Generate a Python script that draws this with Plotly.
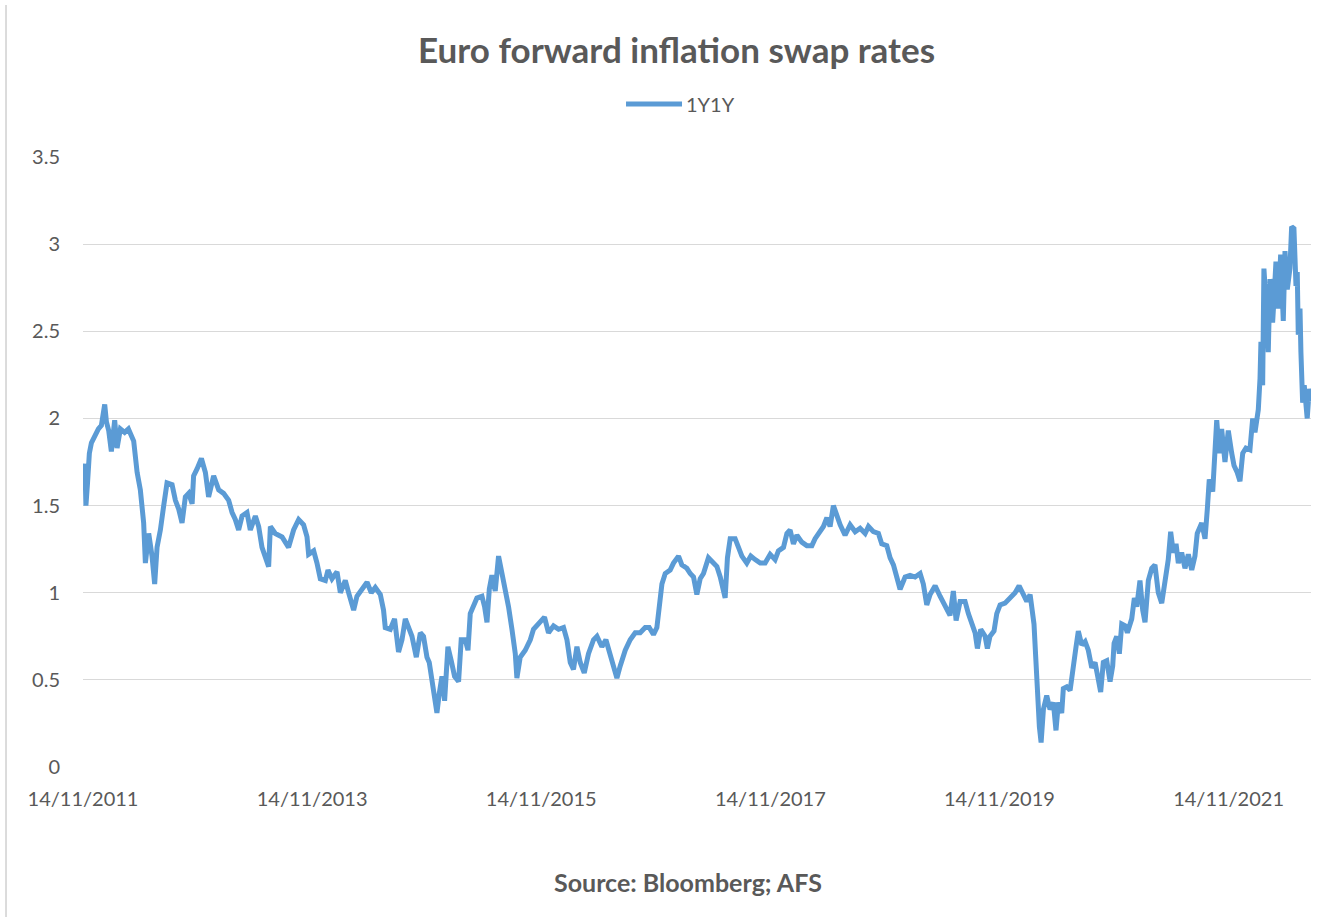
import plotly.graph_objects as go

# 1Y1Y euro forward inflation swap rate (%), dates as decimal years
years = [
    2011.869, 2011.876, 2011.885, 2011.894, 2011.907, 2011.924, 2011.942, 2011.968,
    2012.003, 2012.029, 2012.058, 2012.073, 2012.093, 2012.116, 2012.145, 2012.166,
    2012.195, 2012.232, 2012.265, 2012.311, 2012.341, 2012.369, 2012.398, 2012.413,
    2012.442, 2012.471, 2012.494, 2012.515, 2012.544, 2012.573, 2012.602, 2012.646,
    2012.675, 2012.704, 2012.733, 2012.762, 2012.791, 2012.821, 2012.834, 2012.864,
    2012.902, 2012.937, 2012.965, 2013.009, 2013.053, 2013.096, 2013.140, 2013.170,
    2013.198, 2013.227, 2013.257, 2013.300, 2013.329, 2013.373, 2013.402, 2013.431,
    2013.460, 2013.489, 2013.504, 2013.547, 2013.606, 2013.663, 2013.707,
    2013.751, 2013.794, 2013.824, 2013.838, 2013.882, 2013.911, 2013.940, 2013.984,
    2014.007, 2014.042, 2014.086, 2014.115, 2014.158, 2014.187, 2014.231, 2014.260,
    2014.304, 2014.348, 2014.385, 2014.420, 2014.464, 2014.492, 2014.507, 2014.551,
    2014.588, 2014.623, 2014.653, 2014.682, 2014.717, 2014.740, 2014.778, 2014.813,
    2014.841, 2014.871, 2014.891, 2014.915, 2014.937, 2014.958, 2014.978, 2015.002,
    2015.025, 2015.054, 2015.083, 2015.112, 2015.147, 2015.170, 2015.205, 2015.229,
    2015.249, 2015.278, 2015.307, 2015.351, 2015.374, 2015.395, 2015.415, 2015.438,
    2015.467, 2015.496, 2015.526, 2015.554, 2015.583, 2015.613, 2015.642, 2015.656,
    2015.685, 2015.729, 2015.773, 2015.801, 2015.845, 2015.897, 2015.932, 2015.976,
    2016.020, 2016.063, 2016.093, 2016.122, 2016.150, 2016.180, 2016.209, 2016.244,
    2016.281, 2016.325, 2016.355, 2016.398, 2016.433, 2016.471, 2016.499, 2016.529,
    2016.558, 2016.602, 2016.645, 2016.689, 2016.732, 2016.776, 2016.811, 2016.848,
    2016.878, 2016.898, 2016.922, 2016.951, 2016.994, 2017.023, 2017.067, 2017.096,
    2017.140, 2017.169, 2017.198, 2017.227, 2017.256,
    2017.285, 2017.328, 2017.372, 2017.402, 2017.431, 2017.459, 2017.474, 2017.494,
    2017.518, 2017.561, 2017.590, 2017.620, 2017.663, 2017.698, 2017.736, 2017.780,
    2017.823, 2017.867, 2017.910, 2017.939, 2017.983, 2018.013, 2018.041, 2018.070,
    2018.100, 2018.143, 2018.187, 2018.231, 2018.259, 2018.303, 2018.332, 2018.362,
    2018.390, 2018.419, 2018.449, 2018.478, 2018.521, 2018.565, 2018.609, 2018.652,
    2018.696, 2018.725, 2018.768, 2018.812, 2018.841, 2018.885, 2018.914, 2018.943,
    2018.972, 2019.001,
    2019.045, 2019.088, 2019.132, 2019.176, 2019.204, 2019.234, 2019.263, 2019.307,
    2019.350, 2019.394, 2019.437, 2019.466, 2019.490, 2019.525, 2019.568, 2019.597,
    2019.627, 2019.656, 2019.676, 2019.705, 2019.743, 2019.763, 2019.786, 2019.821,
    2019.845, 2019.874, 2019.917, 2019.961, 2020.005, 2020.040, 2020.072, 2020.107,
    2020.136, 2020.159, 2020.170, 2020.185, 2020.199, 2020.217, 2020.232, 2020.252,
    2020.281, 2020.310, 2020.339, 2020.362, 2020.383, 2020.412, 2020.426, 2020.456,
    2020.485, 2020.508, 2020.537, 2020.557, 2020.587, 2020.616, 2020.644, 2020.674,
    2020.703, 2020.732,
    2020.752, 2020.775, 2020.805, 2020.834, 2020.857, 2020.869, 2020.892, 2020.915,
    2020.936, 2020.965, 2020.985, 2021.023, 2021.046, 2021.067, 2021.095, 2021.119,
    2021.139, 2021.168, 2021.198, 2021.226, 2021.255, 2021.285, 2021.314, 2021.342,
    2021.363, 2021.386, 2021.410, 2021.430, 2021.459, 2021.488, 2021.517, 2021.547,
    2021.575, 2021.595, 2021.634, 2021.663, 2021.683, 2021.700, 2021.730, 2021.750,
    2021.765, 2021.787, 2021.808, 2021.837, 2021.866, 2021.896, 2021.916, 2021.944,
    2021.968, 2021.992, 2022.020, 2022.055, 2022.079, 2022.099, 2022.128, 2022.143,
    2022.151, 2022.166, 2022.177, 2022.195, 2022.215, 2022.230, 2022.253, 2022.267,
    2022.282, 2022.302, 2022.323, 2022.346, 2022.361, 2022.381, 2022.404, 2022.419,
    2022.439, 2022.457, 2022.468, 2022.477, 2022.492, 2022.500, 2022.515, 2022.529,
    2022.544, 2022.555, 2022.573, 2022.588,
]

rate_1y1y = [
    1.72, 1.62, 1.74, 1.50, 1.62, 1.80, 1.86, 1.90,
    1.94, 1.96, 2.08, 1.98, 1.93, 1.81, 1.99, 1.83,
    1.94, 1.92, 1.94, 1.87, 1.69, 1.59, 1.40, 1.17,
    1.34, 1.21, 1.05, 1.26, 1.36, 1.50, 1.63, 1.62,
    1.53, 1.48, 1.40, 1.55, 1.57, 1.51, 1.67, 1.71,
    1.77, 1.69, 1.55, 1.67, 1.59, 1.57, 1.53, 1.46,
    1.42, 1.36, 1.44, 1.46, 1.36, 1.44, 1.38, 1.26,
    1.21, 1.15, 1.38, 1.34, 1.32, 1.26, 1.36,
    1.42, 1.39, 1.32, 1.22, 1.24, 1.17, 1.08, 1.07,
    1.13, 1.08, 1.12, 1.00, 1.07, 1.00, 0.90, 0.98,
    1.02, 1.06, 1.00, 1.03, 0.99, 0.90, 0.80, 0.79,
    0.85, 0.66, 0.73, 0.85, 0.79, 0.75, 0.63, 0.77,
    0.75, 0.63, 0.60, 0.50, 0.40, 0.31, 0.42, 0.52,
    0.38, 0.69, 0.61, 0.52, 0.49, 0.73, 0.73, 0.67,
    0.88, 0.92, 0.97, 0.98, 0.92, 0.83, 1.02, 1.10,
    1.01, 1.21, 1.11, 1.05, 0.92, 0.79, 0.65, 0.51,
    0.63, 0.67, 0.73, 0.79, 0.82, 0.86, 0.77, 0.81,
    0.79, 0.80, 0.73, 0.60, 0.56, 0.69, 0.60, 0.54,
    0.65, 0.73, 0.75, 0.69, 0.73, 0.65, 0.58, 0.51,
    0.58, 0.67, 0.73, 0.77, 0.77, 0.80, 0.80, 0.76,
    0.80, 0.92, 1.05, 1.11, 1.13, 1.17, 1.21, 1.16,
    1.14, 1.11, 1.09, 0.99, 1.08,
    1.11, 1.20, 1.17, 1.15, 1.09, 1.01, 0.97, 1.20,
    1.31, 1.31, 1.26, 1.21, 1.17, 1.21, 1.19, 1.17,
    1.17, 1.22, 1.19, 1.24, 1.26, 1.34, 1.36, 1.28,
    1.33, 1.29, 1.27, 1.27, 1.31, 1.35, 1.38, 1.43,
    1.38, 1.50, 1.44, 1.39, 1.33, 1.39, 1.35, 1.37,
    1.34, 1.38, 1.35, 1.34, 1.28, 1.27, 1.20, 1.16,
    1.09, 1.02,
    1.09, 1.10, 1.09, 1.11, 1.05, 0.93, 0.99, 1.04,
    0.98, 0.92, 0.87, 1.01, 0.84, 0.95, 0.95, 0.88,
    0.82, 0.77, 0.68, 0.79, 0.75, 0.68, 0.75, 0.78,
    0.88, 0.93, 0.94, 0.97, 1.00, 1.04, 1.00, 0.95,
    0.99, 0.90, 0.82, 0.63, 0.40, 0.23, 0.14, 0.33,
    0.41, 0.33, 0.37, 0.21, 0.37, 0.31, 0.45, 0.46,
    0.44, 0.58, 0.69, 0.78, 0.70, 0.72, 0.67, 0.57,
    0.60, 0.50,
    0.43, 0.60, 0.61, 0.49, 0.58, 0.71, 0.75, 0.65,
    0.82, 0.81, 0.77, 0.85, 0.97, 0.92, 1.07, 0.90,
    0.83, 1.07, 1.14, 1.16, 1.00, 0.94, 1.06, 1.19,
    1.35, 1.23, 1.28, 1.17, 1.23, 1.14, 1.22, 1.13,
    1.21, 1.34, 1.40, 1.31, 1.48, 1.65, 1.58, 1.82,
    1.99, 1.80, 1.94, 1.75, 1.93, 1.80, 1.73, 1.69,
    1.64, 1.80, 1.83, 1.82, 2.00, 1.92, 2.05, 2.23,
    2.44, 2.19, 2.86, 2.67, 2.38, 2.80, 2.55, 2.71,
    2.90, 2.63, 2.94, 2.56, 2.96, 2.74, 2.86, 3.10,
    3.09, 2.76, 2.84, 2.48, 2.63, 2.38, 2.09, 2.19,
    2.03, 2.00, 2.17, 2.10,
]

# x-axis ticks every two years on 14 November
tick_years = [2011.8685, 2013.8685, 2015.8685, 2017.8685, 2019.8685, 2021.8685]
tick_labels = ["14/11/2011", "14/11/2013", "14/11/2015",
               "14/11/2017", "14/11/2019", "14/11/2021"]
y_ticks = [0, 0.5, 1, 1.5, 2, 2.5, 3, 3.5]
y_labels = ["0", "0.5", "1", "1.5", "2", "2.5", "3", "3.5"]

LINE_BLUE = "#5B9BD5"
TEXT_GREY = "#595959"
GRID_GREY = "#D9D9D9"
FONT = "Lato"

fig = go.Figure()
fig.add_trace(go.Scatter(
    x=years, y=rate_1y1y, mode="lines", name="1Y1Y",
    line=dict(color=LINE_BLUE, width=5),
    showlegend=False,
))

fig.update_layout(
    width=1341, height=917,
    margin=dict(l=83, r=30, t=157, b=150),
    paper_bgcolor="white", plot_bgcolor="white",
    font=dict(family=FONT, color=TEXT_GREY, size=20),
    xaxis=dict(
        range=[2011.8685, 2022.588],
        tickmode="array", tickvals=tick_years, ticktext=tick_labels,
        showgrid=False, zeroline=False, showline=False,
        ticks="outside", ticklen=14, tickcolor="rgba(0,0,0,0)",
        tickfont=dict(family=FONT, size=20, color=TEXT_GREY),
    ),
    yaxis=dict(
        range=[0, 3.5],
        tickmode="array", tickvals=y_ticks, ticktext=y_labels,
        showgrid=True, gridcolor=GRID_GREY, gridwidth=1.3,
        zeroline=False, showline=False,
        ticks="outside", ticklen=18, tickcolor="rgba(0,0,0,0)",
        tickfont=dict(family=FONT, size=20, color=TEXT_GREY),
    ),
)

# chart title, legend key and source note
fig.add_annotation(
    text="<b>Euro forward inflation swap rates</b>",
    xref="paper", yref="paper", x=0.483, y=1.177,
    xanchor="center", yanchor="middle", showarrow=False,
    font=dict(family=FONT, size=35, color=TEXT_GREY),
)
fig.add_shape(
    type="line", xref="paper", yref="paper",
    x0=0.4422, x1=0.4878, y0=1.0869, y1=1.0869,
    line=dict(color=LINE_BLUE, width=5),
)
fig.add_annotation(
    text="1Y1Y", xref="paper", yref="paper", x=0.4894, y=1.0869,
    xanchor="left", yanchor="middle", showarrow=False,
    font=dict(family=FONT, size=20, color=TEXT_GREY),
)
fig.add_annotation(
    text="<b>Source: Bloomberg; AFS</b>",
    xref="paper", yref="paper", x=0.4927, y=-0.1885,
    xanchor="center", yanchor="middle", showarrow=False,
    font=dict(family=FONT, size=25, color=TEXT_GREY),
)

# chart-area border on the left edge
fig.add_shape(
    type="line", xref="paper", yref="paper",
    x0=-0.0627, x1=-0.0627, y0=1.249, y1=-0.246,
    line=dict(color="#D0D0D0", width=1.5),
)

fig.write_html("out.html")
